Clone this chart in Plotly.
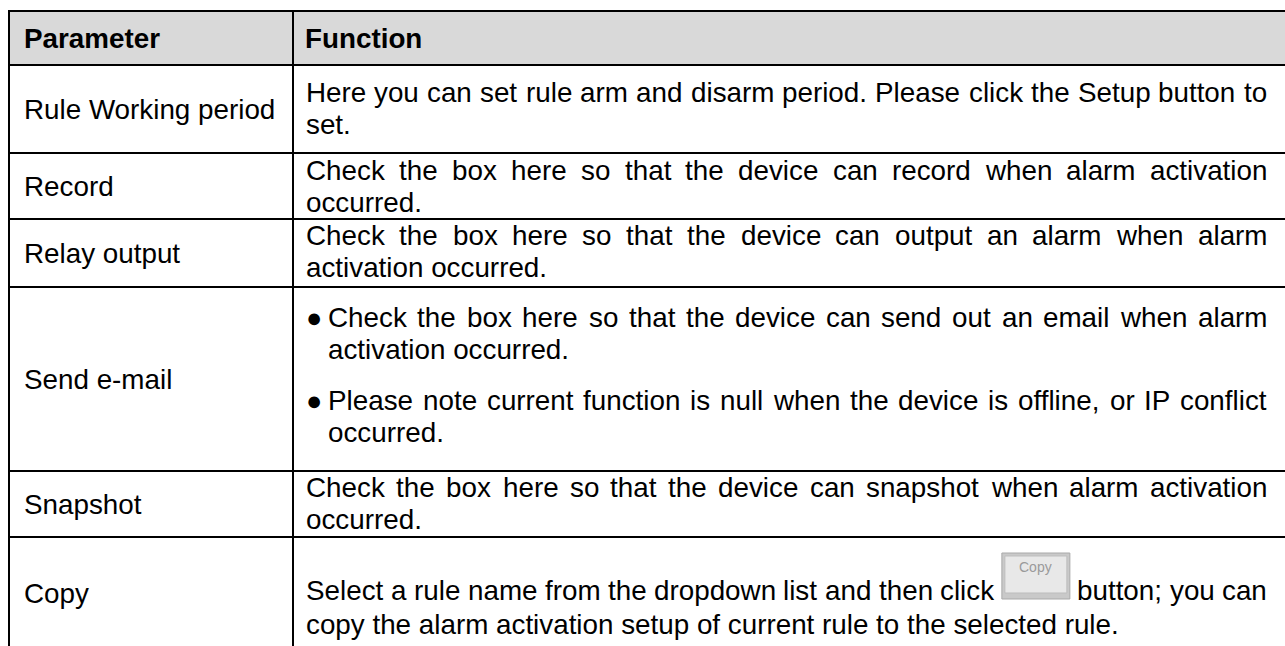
import plotly.graph_objects as go

# ---------------- data ----------------
header = ["Parameter", "Function"]
parameters = ["Rule Working period", "Record", "Relay output", "Send e-mail", "Snapshot", "Copy"]
BTN = "{BTN}"
button_label = "Copy"
functions = [
    [["Here you can set rule arm and disarm period. Please click the Setup button to", "set."]],
    [["Check the box here so that the device can record when alarm activation", "occurred."]],
    [["Check the box here so that the device can output an alarm when alarm", "activation occurred."]],
    [["Check the box here so that the device can send out an email when alarm", "activation occurred."],
     ["Please note current function is null when the device is offline, or IP conflict", "occurred."]],
    [["Check the box here so that the device can snapshot when alarm activation", "occurred."]],
    [["Select a rule name from the dropdown list and then click " + BTN + " button; you can",
      "copy the alarm activation setup of current rule to the selected rule."]],
]
bulleted = [False, False, False, True, False, False]

# ---------------- layout / style ----------------
W, H = 1285, 646
X_LEFT, X_DIV, X_RIGHT = 9, 293, 1300
ROW_EDGES = [11, 65, 153, 219, 287, 471, 537, 649]
Y_BOTTOM_EXT = 700
BASELINES = [[102, 134], [180, 212], [245, 277], [327, 359, 410, 442], [497, 529], [600, 634]]
FS = 27.8
FONT = "Liberation Sans, Arial, sans-serif"
LABEL_X = 24
TEXT_X = 306
TEXT_RIGHT = 1267
BULLET_X = 314
BULLET_TEXT_X = 328
BULLET_FS = 27
BTN_W, BTN_H = 68, 47
HEADER_FILL = "#d9d9d9"
LINE_W = 2

AW = {' ': 278, '.': 278, ',': 278, ';': 278, ':': 278, '-': 333,
      'A': 667, 'B': 667, 'C': 722, 'D': 722, 'E': 667, 'F': 611, 'G': 778, 'H': 722, 'I': 278,
      'J': 500, 'K': 667, 'L': 556, 'M': 833, 'N': 722, 'O': 778, 'P': 667, 'Q': 778, 'R': 722,
      'S': 667, 'T': 611, 'U': 722, 'V': 667, 'W': 944, 'X': 667, 'Y': 667, 'Z': 611,
      'a': 556, 'b': 556, 'c': 500, 'd': 556, 'e': 556, 'f': 278, 'g': 556, 'h': 556, 'i': 222,
      'j': 222, 'k': 500, 'l': 222, 'm': 833, 'n': 556, 'o': 556, 'p': 556, 'q': 556, 'r': 333,
      's': 500, 't': 278, 'u': 556, 'v': 500, 'w': 722, 'x': 500, 'y': 500, 'z': 500}


def tw(s, fs=FS):
    return sum(AW.get(c, 556) for c in s) * fs / 1000.0


def mid_from_baseline(b, fs=FS):
    return b - 0.3465 * fs


fig = go.Figure()
shapes = []
annotations = []


def text(x, yb, s, fs=FS, bold=False, xanchor="left", color="#000000"):
    annotations.append(dict(
        x=x, y=mid_from_baseline(yb, fs), xref="x", yref="y", text=("<b>%s</b>" % s) if bold else s,
        showarrow=False, xanchor=xanchor, yanchor="middle", borderpad=0, borderwidth=0,
        font=dict(family=FONT, size=fs, color=color)))


def button(x, yb):
    top, bot = yb - BTN_H, yb - 1
    shapes.append(dict(type="rect", xref="x", yref="y", x0=x, x1=x + BTN_W, y0=top, y1=bot,
                       fillcolor="#c9c9c9", line=dict(color="#a9a9a9", width=1), layer="above"))
    shapes.append(dict(type="rect", xref="x", yref="y", x0=x + 3, x1=x + BTN_W - 3, y0=top + 3, y1=bot - 6,
                       fillcolor="#e8e8e8", line=dict(color="#bdbdbd", width=1), layer="above"))
    annotations.append(dict(x=x + BTN_W / 2, y=top + 14, xref="x", yref="y", text=button_label,
                            showarrow=False, xanchor="center", yanchor="middle", borderpad=0, borderwidth=0,
                            font=dict(family=FONT, size=14, color="#9a9a9a")))


def justified(line, x0, x1, yb):
    tokens = line.split(" ")
    widths = [BTN_W if t == BTN else tw(t) for t in tokens]
    gap = (x1 - x0 - sum(widths)) / max(1, len(tokens) - 1)
    x = x0
    for t, w in zip(tokens, widths):
        if t == BTN:
            button(x, yb)
        else:
            text(x, yb, t)
        x += w + gap


# header band
shapes.append(dict(type="rect", xref="x", yref="y", x0=X_LEFT, x1=X_RIGHT, y0=ROW_EDGES[0], y1=ROW_EDGES[1],
                   fillcolor=HEADER_FILL, line=dict(width=0), layer="below"))
hb = (ROW_EDGES[0] + ROW_EDGES[1]) / 2 + 0.358 * FS
text(LABEL_X, hb, header[0], bold=True)
text(TEXT_X - 1, hb, header[1], bold=True)

# parameter labels and function texts
for i, name in enumerate(parameters):
    c = (ROW_EDGES[i + 1] + ROW_EDGES[i + 2]) / 2
    text(LABEL_X, c + 0.358 * FS, name)
    bl = BASELINES[i]
    k = 0
    for para in functions[i]:
        for j, line in enumerate(para):
            yb = bl[k]
            k += 1
            if bulleted[i]:
                x0 = BULLET_TEXT_X
                if j == 0:
                    text(BULLET_X, yb, "●", fs=BULLET_FS, xanchor="center")
            else:
                x0 = TEXT_X
            if j < len(para) - 1:
                justified(line, x0, TEXT_RIGHT, yb)
            else:
                text(x0, yb, line.replace(BTN, ""))

# grid lines
for y in ROW_EDGES[:-1]:
    shapes.append(dict(type="line", xref="x", yref="y", x0=X_LEFT - 1, x1=X_RIGHT, y0=y, y1=y,
                       line=dict(color="#000000", width=LINE_W), layer="above"))
for x in (X_LEFT, X_DIV):
    shapes.append(dict(type="line", xref="x", yref="y", x0=x, x1=x, y0=ROW_EDGES[0] - 1, y1=Y_BOTTOM_EXT,
                       line=dict(color="#000000", width=LINE_W), layer="above"))

fig.update_layout(
    width=W, height=H, margin=dict(l=0, r=0, t=0, b=0),
    paper_bgcolor="#ffffff", plot_bgcolor="#ffffff",
    xaxis=dict(range=[0, W], visible=False, fixedrange=True),
    yaxis=dict(range=[H, 0], visible=False, fixedrange=True),
    shapes=shapes, annotations=annotations, showlegend=False,
)

fig.write_html("out.html", config={"displayModeBar": False},
               post_script="document.body.style.margin='0';document.documentElement.style.overflow='hidden';")
